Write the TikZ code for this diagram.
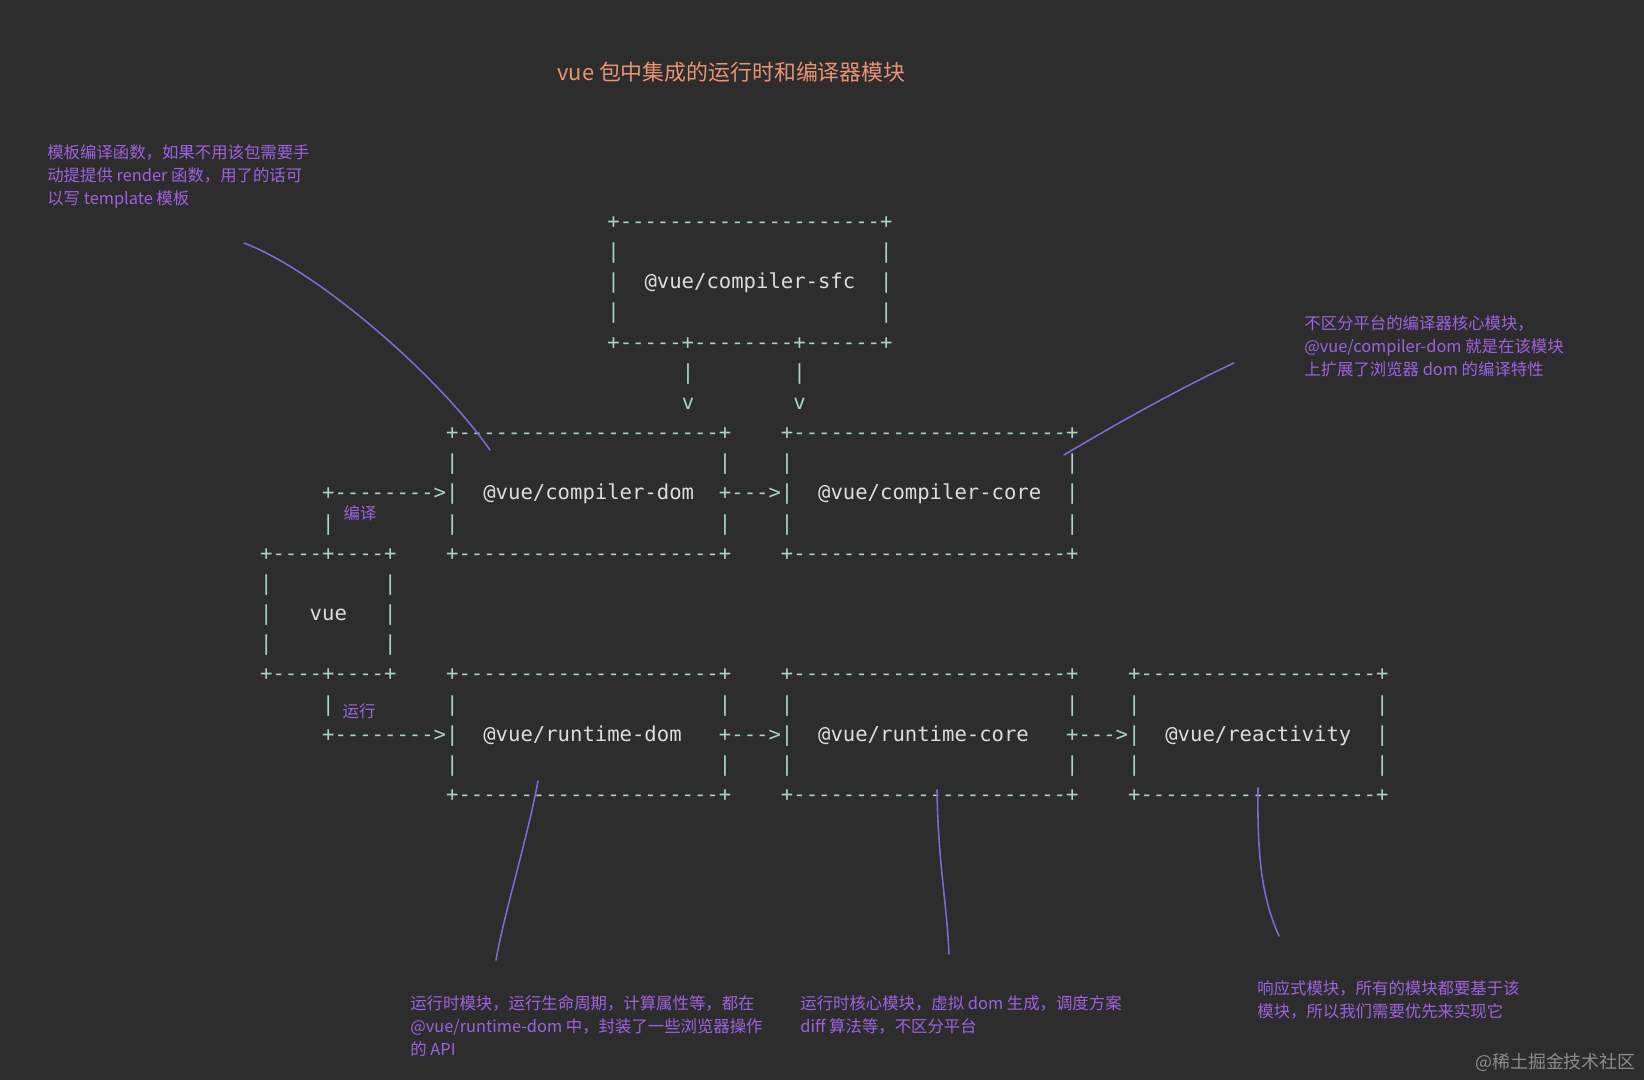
\documentclass[tikz,border=0pt]{standalone}
\usepackage{fontspec}
\setmonofont{DejaVu Sans Mono}
\newfontfamily\cjk{Noto Sans CJK SC}
\definecolor{cfond}{RGB}{45,45,46}
\definecolor{cbord}{RGB}{172,208,198}
\definecolor{ctexte}{RGB}{220,220,220}
\definecolor{cnote}{RGB}{158,98,222}
\definecolor{ctrait}{RGB}{128,104,206}
\definecolor{ctitre}{RGB}{232,148,116}
\definecolor{cmarque}{RGB}{140,140,140}
\ExplSyntaxOn
\NewDocumentCommand\rep{mm}{\prg_replicate:nn{#1}{#2}}
\ExplSyntaxOff
\newcommand\lignes[1]{\begin{tabular}[t]{@{}l@{}}#1\end{tabular}}
\newcommand\pk[1]{\textcolor{ctexte}{#1}}
% grille du dessin ascii (px)
\newcommand\gx[1]{259.8+12.4*#1}
\newcommand\gy[1]{228.5+30.16*#1}

\begin{document}
\begin{tikzpicture}[x=0.02cm, y=-0.02cm,
    asc/.style={font=\ttfamily\fontsize{11.72}{17.16}\selectfont, text=cbord, inner sep=0pt, anchor=base west},
    note/.style={font=\cjk\fontsize{9.33}{13.09}\selectfont, text=cnote, inner sep=0pt, anchor=base west},
    trait/.style={ctrait, line width=0.9pt, line cap=round}]

  \fill[cfond] (0,0) rectangle (1644,1080);

  \node[font=\cjk\fontsize{12.46}{15}\selectfont, text=ctitre, inner sep=0pt, anchor=base west]
    (titre) at (557,80) {vue 包中集成的运行时和编译器模块};

  % --- compilateur ---
  \node[asc] (sfc) at ({\gx{28}},{\gy{0}}) {\lignes{
    +\rep{21}{-}+\\
    |\rep{21}{~}|\\
    |~~\pk{@vue/compiler-sfc}~~|\\
    |\rep{21}{~}|\\
    +\rep{5}{-}+\rep{8}{-}+\rep{6}{-}+}};
  \node[asc] (sfcdom)  at ({\gx{34}},{\gy{5}}) {\lignes{|\\v}};
  \node[asc] (sfccore) at ({\gx{43}},{\gy{5}}) {\lignes{|\\v}};

  \node[asc] (dom) at ({\gx{15}},{\gy{7}}) {\lignes{
    +\rep{21}{-}+\\
    |\rep{21}{~}|\\
    |~~\pk{@vue/compiler-dom}~~+\\
    |\rep{21}{~}|\\
    +\rep{21}{-}+}};
  \node[asc] (core) at ({\gx{42}},{\gy{7}}) {\lignes{
    +\rep{22}{-}+\\
    |\rep{22}{~}|\\
    |~~\pk{@vue/compiler-core}~~|\\
    |\rep{22}{~}|\\
    +\rep{22}{-}+}};
  \node[asc] (domcore) at ({\gx{38}},{\gy{9}}) {--->};
  \node[asc] (vuedom)  at ({\gx{5}},{\gy{9}}) {\lignes{+\rep{8}{-}>\\|}};

  % --- vue ---
  \node[asc] (vue) at ({\gx{0}},{\gy{11}}) {\lignes{
    +\rep{4}{-}+\rep{4}{-}+\\
    |\rep{9}{~}|\\
    |~~~\pk{vue}~~~|\\
    |\rep{9}{~}|\\
    +\rep{4}{-}+\rep{4}{-}+}};

  % --- runtime ---
  \node[asc] (vuerdom) at ({\gx{5}},{\gy{16}}) {\lignes{|\\+\rep{8}{-}>}};
  \node[asc] (rdom) at ({\gx{15}},{\gy{15}}) {\lignes{
    +\rep{21}{-}+\\
    |\rep{21}{~}|\\
    |~~\pk{@vue/runtime-dom}~~~+\\
    |\rep{21}{~}|\\
    +\rep{21}{-}+}};
  \node[asc] (rcore) at ({\gx{42}},{\gy{15}}) {\lignes{
    +\rep{22}{-}+\\
    |\rep{22}{~}|\\
    |~~\pk{@vue/runtime-core}~~~+\\
    |\rep{22}{~}|\\
    +\rep{22}{-}+}};
  \node[asc] (react) at ({\gx{70}},{\gy{15}}) {\lignes{
    +\rep{19}{-}+\\
    |\rep{19}{~}|\\
    |~~\pk{@vue/reactivity}~~|\\
    |\rep{19}{~}|\\
    +\rep{19}{-}+}};
  \node[asc] (rdomrcore)   at ({\gx{38}},{\gy{17}}) {--->};
  \node[asc] (rcorereact)  at ({\gx{66}},{\gy{17}}) {--->};

  % --- notes ---
  \node[note, anchor=center] (lbcomp) at (360,513) {编译};
  \node[note, anchor=center] (lbrun)  at (359,711) {运行};
  \node[note] (ntpl) at (47,158) {\lignes{
    模板编译函数，如果不用该包需要手\\
    动提提供 render 函数，用了的话可\\
    以写 template 模板}};
  \node[note] (ncore) at (1304,329) {\lignes{
    不区分平台的编译器核心模块，\\
    @vue/compiler-dom 就是在该模块\\
    上扩展了浏览器 dom 的编译特性}};
  \node[note] (nrdom) at (410,1009) {\lignes{
    运行时模块，运行生命周期，计算属性等，都在\\
    @vue/runtime-dom 中，封装了一些浏览器操作\\
    的 API}};
  \node[note] (nrcore) at (800,1009) {\lignes{
    运行时核心模块，虚拟 dom 生成，调度方案\\
    diff 算法等，不区分平台}};
  \node[note] (nreact) at (1257,994) {\lignes{
    响应式模块，所有的模块都要基于该\\
    模块，所以我们需要优先来实现它}};
  \node[font=\cjk\fontsize{10.2}{12}\selectfont, text=cmarque, inner sep=0pt, anchor=base east]
    (marque) at (1636,1068) {@稀土掘金技术社区};

  % --- traits a main levee ---
  \coordinate (t1a) at (244,243);  \coordinate (t1b) at (490,450);
  \coordinate (t2a) at (1234,363); \coordinate (t2b) at (1064,455);
  \coordinate (t3a) at (538,781);  \coordinate (t3b) at (496,960);
  \coordinate (t4a) at (937,790);  \coordinate (t4b) at (949,954);
  \coordinate (t5a) at (1258,788); \coordinate (t5b) at (1279,936);
  \draw[trait] (t1a) .. controls (320,272) and (440,378) .. (t1b);
  \draw[trait] (t2a) .. controls (1188,384) and (1112,426) .. (t2b);
  \draw[trait] (t3a) .. controls (527,840) and (505,910) .. (t3b);
  \draw[trait] (t4a) .. controls (938,862) and (947,905) .. (t4b);
  \draw[trait] (t5a) .. controls (1257,862) and (1263,900) .. (t5b);
\end{tikzpicture}
\end{document}
